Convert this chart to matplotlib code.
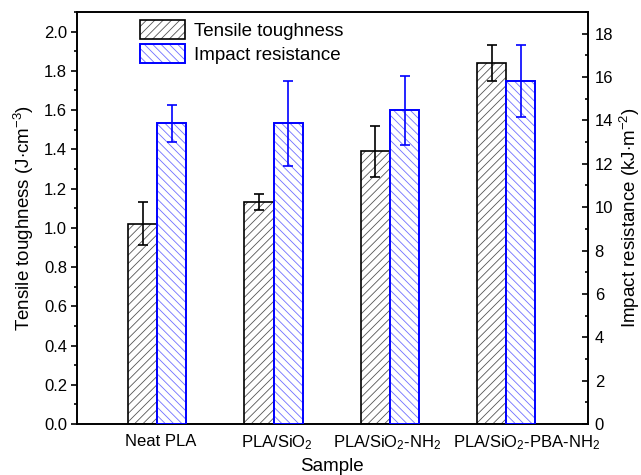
"""Tensile toughness and impact resistance of PLA composites (dual-axis bar chart)."""

import matplotlib

matplotlib.use("Agg")
import matplotlib.pyplot as plt
import numpy as np
from matplotlib.legend_handler import HandlerTuple
from matplotlib.patches import Patch
from matplotlib.ticker import MultipleLocator
from matplotlib.transforms import ScaledTranslation

SAMPLES = ["Neat PLA", "PLA/SiO$_2$", "PLA/SiO$_2$-NH$_2$", "PLA/SiO$_2$-PBA-NH$_2$"]
TOUGHNESS = [1.02, 1.13, 1.39, 1.84]          # J/cm^3
TOUGHNESS_ERR = [0.11, 0.04, 0.13, 0.09]
IMPACT = [13.87, 13.87, 14.46, 15.83]          # kJ/m^2
IMPACT_ERR = [0.86, 1.95, 1.60, 1.65]

plt.rcParams["font.family"] = ["Liberation Sans", "DejaVu Sans"]
plt.rcParams["mathtext.fontset"] = "custom"
plt.rcParams["mathtext.rm"] = "Liberation Sans"
plt.rcParams["mathtext.it"] = "Liberation Sans:italic"
plt.rcParams["hatch.linewidth"] = 0.6

BLACK_EDGE = "#000000"
BLACK_HATCH = "#555555"
BLUE_EDGE = "#0000ff"
BLUE_HATCH = "#7070ff"

x = np.arange(1, len(SAMPLES) + 1)
width = 0.25

fig = plt.figure(figsize=(6.41, 4.75), dpi=100)
ax = fig.add_axes([0.120, 0.1074, 0.797, 0.8673])
ax2 = ax.twinx()

# hatch and frame drawn separately so the hatch can be lighter than the outline
ax.bar(x - width / 2, TOUGHNESS, width, color="white", edgecolor=BLACK_HATCH,
       hatch="////", linewidth=0, zorder=2)
ax.bar(x - width / 2, TOUGHNESS, width, fill=False, edgecolor=BLACK_EDGE,
       linewidth=1.2, zorder=3)
ax.errorbar(x - width / 2, TOUGHNESS, yerr=TOUGHNESS_ERR, fmt="none",
            ecolor=BLACK_EDGE, elinewidth=1.2, capsize=3.3, capthick=1.2, zorder=4)

ax2.bar(x + width / 2, IMPACT, width, color="white", edgecolor=BLUE_HATCH,
        hatch="\\\\\\\\", linewidth=0, zorder=2)
ax2.bar(x + width / 2, IMPACT, width, fill=False, edgecolor=BLUE_EDGE,
        linewidth=1.4, zorder=3)
ax2.errorbar(x + width / 2, IMPACT, yerr=IMPACT_ERR, fmt="none",
             ecolor=BLUE_EDGE, elinewidth=1.2, capsize=3.3, capthick=1.2, zorder=4)

ax.set_xlim(0.31, 4.70)
ax.set_ylim(0, 2.1)
ax2.set_ylim(0, 19)

ax.set_xticks(x)
ax.set_xticklabels(SAMPLES, fontsize=12)
ax.tick_params(axis="x", length=0, pad=7)
# nudge labels a little right, the last one more so it clears its neighbour
for label, dx in zip(ax.get_xticklabels(), [3, 3, -3, 20]):
    label.set_transform(label.get_transform() + ScaledTranslation(dx / 100, 0, fig.dpi_scale_trans))

ax.yaxis.set_major_locator(MultipleLocator(0.2))
ax.yaxis.set_minor_locator(MultipleLocator(0.1))
ax.tick_params(axis="y", which="major", direction="out", length=4, width=1.2,
               labelsize=12, pad=3)
ax.tick_params(axis="y", which="minor", direction="out", length=2.5, width=1.2)

ax2.yaxis.set_major_locator(MultipleLocator(2))
ax2.yaxis.set_minor_locator(MultipleLocator(1))
ax2.tick_params(axis="y", which="major", direction="in", length=4, width=1.2,
                labelsize=12, pad=5)
ax2.tick_params(axis="y", which="minor", direction="in", length=2.5, width=1.2)

for a in (ax, ax2):
    for spine in a.spines.values():
        spine.set_linewidth(1.2)

ax.set_xlabel("Sample", fontsize=13.5, labelpad=4)
ax.set_ylabel("Tensile toughness (J$\\cdot$cm$^{-3}$)", fontsize=13.5, labelpad=6)
ax2.set_ylabel("Impact resistance (kJ$\\cdot$m$^{-2}$)", fontsize=13.5, labelpad=3)

tough_handle = (Patch(facecolor="white", edgecolor=BLACK_HATCH, hatch="////", linewidth=0),
                Patch(fill=False, edgecolor=BLACK_EDGE, linewidth=1.2))
impact_handle = (Patch(facecolor="white", edgecolor=BLUE_HATCH, hatch="\\\\\\\\", linewidth=0),
                 Patch(fill=False, edgecolor=BLUE_EDGE, linewidth=1.4))
ax2.legend([tough_handle, impact_handle], ["Tensile toughness", "Impact resistance"],
           handler_map={tuple: HandlerTuple(ndivide=1, pad=0)},
           loc="upper left", bbox_to_anchor=(0.097, 1.012), frameon=False,
           fontsize=13.5, handlelength=2.4, handleheight=1.2, handletextpad=0.5,
           labelspacing=0.2, borderaxespad=0.3)

fig.savefig("out.png", dpi=100)
